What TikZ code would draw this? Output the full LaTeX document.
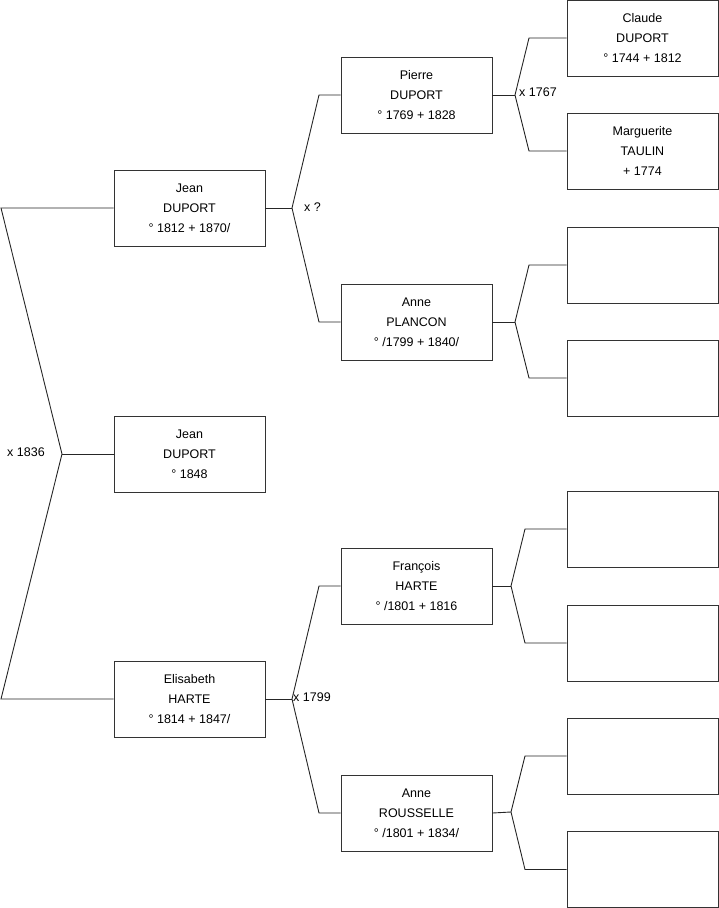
\documentclass[tikz,border=0pt]{standalone}
\usepackage{fontspec}
\setmainfont{Liberation Sans}
\begin{document}
\begin{tikzpicture}[x=1pt,y=-1pt,
  person/.style={draw=black!80, line width=0.9pt, rectangle, minimum width=151pt, minimum height=76pt, inner sep=0pt, align=center, font=\fontsize{12.5}{20}\selectfont},
  link/.style={draw=black!85, line width=0.9pt},
  marr/.style={anchor=west, inner sep=0pt, font=\fontsize{12.5}{15}\selectfont}]
\useasboundingbox (0,0) rectangle (719,908);
% generation 1
\node[person] (g1a) at (189.5,208) {Jean\\DUPORT\\° 1812 + 1870/};
\node[person] (g1b) at (189.5,454) {Jean\\DUPORT\\° 1848};
\node[person] (g1c) at (189.5,699) {Elisabeth\\HARTE\\° 1814 + 1847/};
% generation 2
\node[person] (p1) at (416.5,95) {Pierre\\DUPORT\\° 1769 + 1828};
\node[person] (p2) at (416.5,322) {Anne\\PLANCON\\° /1799 + 1840/};
\node[person] (p3) at (416.5,586) {François\\HARTE\\° /1801 + 1816};
\node[person] (p4) at (416.5,813) {Anne\\ROUSSELLE\\° /1801 + 1834/};
% generation 3
\node[person] (q1) at (642.5,38) {Claude\\DUPORT\\° 1744 + 1812};
\node[person] (q2) at (642.5,151) {Marguerite\\TAULIN\\+ 1774};
\node[person] (q3) at (642.5,265) {};
\node[person] (q4) at (642.5,378) {};
\node[person] (q5) at (642.5,529) {};
\node[person] (q6) at (642.5,643) {};
\node[person] (q7) at (642.5,756) {};
\node[person] (q8) at (642.5,869.5) {};
% fork coordinates
\coordinate (l1) at (1,208);
\coordinate (l3) at (1,699);
\coordinate (f0) at (62,454);
\coordinate (fa) at (292,208);
\coordinate (ca1) at (319,95);
\coordinate (ca2) at (319,322);
\coordinate (fc) at (292,699);
\coordinate (cc1) at (319,586);
\coordinate (cc2) at (319,813);
\coordinate (f1) at (515,95);
\coordinate (c11) at (529,38);
\coordinate (c12) at (529,151);
\coordinate (f2) at (515,322);
\coordinate (c21) at (529,265);
\coordinate (c22) at (529,378);
\coordinate (f3) at (511,586);
\coordinate (c31) at (525,529);
\coordinate (c32) at (525,643);
\coordinate (f4) at (511,812);
\coordinate (c41) at (525,756);
\coordinate (c42) at (525,869.5);
% connectors
\draw[link] (g1a.west) -- (l1) -- (f0) -- (l3) -- (g1c.west);
\draw[link] (f0) -- (g1b.west);
\draw[link] (g1a.east) -- (fa);
\draw[link] (p1.west) -- (ca1) -- (fa) -- (ca2) -- (p2.west);
\draw[link] (g1c.east) -- (fc);
\draw[link] (p3.west) -- (cc1) -- (fc) -- (cc2) -- (p4.west);
\draw[link] (p1.east) -- (f1);
\draw[link] (q1.west) -- (c11) -- (f1) -- (c12) -- (q2.west);
\draw[link] (p2.east) -- (f2);
\draw[link] (q3.west) -- (c21) -- (f2) -- (c22) -- (q4.west);
\draw[link] (p3.east) -- (f3);
\draw[link] (q5.west) -- (c31) -- (f3) -- (c32) -- (q6.west);
\draw[link] (p4.east) -- (f4);
\draw[link] (q7.west) -- (c41) -- (f4) -- (c42) -- (q8.west);
% marriage labels
\node[marr] (m0) at (7,452) {x 1836};
\node[marr] (ma) at (304,207) {x ?};
\node[marr] (mc) at (293,697) {x 1799};
\node[marr] (m1) at (519,92) {x 1767};
\end{tikzpicture}
\end{document}
